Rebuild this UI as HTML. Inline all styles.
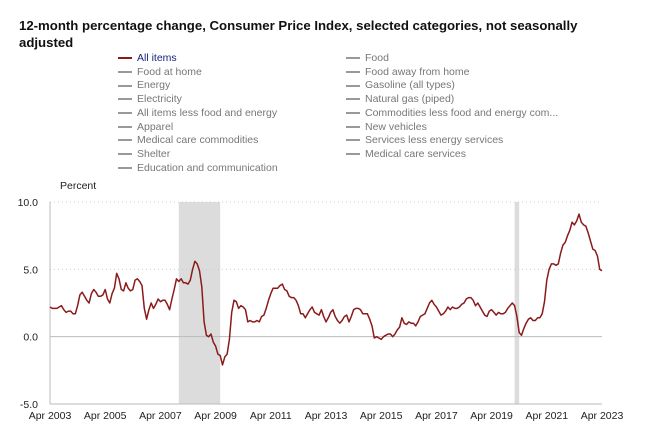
<!DOCTYPE html>
<html><head><meta charset="utf-8"><style>
body{margin:0;background:#fff;font-family:"Liberation Sans",sans-serif;}
#wrap{position:relative;width:661px;height:440px;overflow:hidden;}
.title{position:absolute;left:19px;top:17px;font-size:13.2px;font-weight:bold;color:#111;line-height:17px;width:620px;}
.leg{position:absolute;font-size:10.5px;color:#777;white-space:nowrap;}
.leg span.d{display:inline-block;width:14px;height:2px;background:#999;vertical-align:middle;margin-right:5px;}
</style></head><body>
<div id="wrap">
<div class="title">12-month percentage change, Consumer Price Index, selected categories, not seasonally<br>adjusted</div>
<div id="legend"></div>
<svg id="chart" width="661" height="440" style="position:absolute;left:0;top:0"></svg>
</div>
<script>
const legendLeft=["All items","Food at home","Energy","Electricity","All items less food and energy","Apparel","Medical care commodities","Shelter","Education and communication"];
const legendRight=["Food","Food away from home","Gasoline (all types)","Natural gas (piped)","Commodities less food and energy com...","New vehicles","Services less energy services","Medical care services"];
const yTicks=[10,5,0,-5];
const yTickLabels=["10.0","5.0","0.0","-5.0"];
const xTickYears=[2003,2005,2007,2009,2011,2013,2015,2017,2019,2021,2023];
const recessions=[[2007+11/12,2009+5/12],[2020+1/12,2020+3/12]];
const startYear=2003+3/12;
const allItems=[2.2,2.1,2.1,2.1,2.2,2.3,2.0,1.8,1.9,
1.9,1.7,1.7,2.3,3.1,3.3,3.0,2.7,2.5,3.2,3.5,3.3,
3.0,3.0,3.1,3.5,2.8,2.5,3.2,3.6,4.7,4.3,3.5,3.4,
4.0,3.6,3.4,3.5,4.2,4.3,4.1,3.8,2.1,1.3,2.0,2.5,
2.1,2.4,2.8,2.6,2.7,2.7,2.4,2.0,2.8,3.5,4.3,4.1,
4.3,4.0,4.0,3.9,4.2,5.0,5.6,5.4,4.9,3.7,1.1,0.1,
0.0,0.2,-0.4,-0.7,-1.3,-1.4,-2.1,-1.5,-1.3,-0.2,1.8,2.7,
2.6,2.1,2.3,2.2,2.0,1.1,1.2,1.1,1.1,1.2,1.1,1.5,
1.6,2.1,2.7,3.2,3.6,3.6,3.6,3.8,3.9,3.5,3.4,3.0,
2.9,2.9,2.7,2.3,1.7,1.7,1.4,1.7,2.0,2.2,1.8,1.7,
1.6,2.0,1.5,1.1,1.4,1.8,2.0,1.5,1.2,1.0,1.2,1.5,
1.6,1.1,1.5,2.0,2.1,2.1,2.0,1.7,1.7,1.7,1.3,0.8,
-0.1,0.0,-0.1,-0.2,0.0,0.1,0.2,0.2,0.0,0.2,0.5,0.7,
1.4,1.0,0.9,1.1,1.0,1.0,0.8,1.1,1.5,1.6,1.7,2.1,
2.5,2.7,2.4,2.2,1.9,1.6,1.7,1.9,2.2,2.0,2.2,2.1,
2.1,2.2,2.4,2.5,2.8,2.9,2.9,2.7,2.3,2.5,2.2,1.9,
1.6,1.5,1.9,2.0,1.8,1.6,1.8,1.7,1.7,1.8,2.1,2.3,
2.5,2.3,1.5,0.3,0.1,0.6,1.0,1.3,1.4,1.2,1.2,1.4,
1.4,1.7,2.6,4.2,5.0,5.4,5.4,5.3,5.4,6.2,6.8,7.0,
7.5,7.9,8.5,8.3,8.6,9.1,8.5,8.3,8.2,7.7,7.1,6.5,
6.4,6.0,5.0,4.9];

const NS="http://www.w3.org/2000/svg";
const svg=document.getElementById('chart');
const X0=50,X1=602,Y0=202,Y1=404;
function xs(t){return X0+(t-startYear)/20*(X1-X0);}
function ys(v){return Y0+(10-v)/15*(Y1-Y0);}
function mk(tag,a){const e=document.createElementNS(NS,tag);for(const k in a)e.setAttribute(k,a[k]);svg.appendChild(e);return e;}

const lg=document.getElementById('legend');
function addLeg(list,x){list.forEach((t,i)=>{const d=document.createElement('div');d.className='leg';
d.style.left=x+'px';d.style.top=(52+i*13.7)+'px';
const first=(list===legendLeft&&i===0);
d.innerHTML='<span class="d" style="background:'+(first?'#8b1a1a':'#999')+'"></span>'+t;
if(first)d.style.color='#1a237e';


lg.appendChild(d);});}
addLeg(legendLeft,118);addLeg(legendRight,346);

recessions.forEach(r=>{const e=mk('rect',{x:xs(r[0]),y:Y0,width:xs(r[1])-xs(r[0]),height:Y1-Y0,fill:'#dcdcdc'});

});

yTicks.forEach((v,i)=>{const y=ys(v);
const g=mk('line',{x1:X0,x2:X1,y1:y,y2:y,stroke:v===0?'#bbb':'#ccc','stroke-width':1,'stroke-dasharray':v===0?'':'1,3'});


const t=mk('text',{x:X0-12,y:y+4,'text-anchor':'end','font-size':10.5,fill:'#222'});t.textContent=yTickLabels[i];

});
const yt=mk('text',{x:60,y:189,'font-size':10.5,fill:'#222'});yt.textContent='Percent';



const ax=mk('line',{x1:X0,x2:X0,y1:Y0,y2:Y1,stroke:'#bbb'});


const bx=mk('line',{x1:X0,x2:X1,y1:Y1,y2:Y1,stroke:'#bbb'});


xTickYears.forEach(yr=>{const x=xs(yr+3/12);
const t=mk('text',{x:x,y:Y1+15,'text-anchor':'middle','font-size':10.5,fill:'#222'});t.textContent='Apr '+yr;

});

const pts=allItems.map((v,i)=>xs(startYear+i/12).toFixed(1)+','+ys(v).toFixed(1)).join(' ');
const pl=mk('polyline',{points:pts,fill:'none',stroke:'#8b1a1a','stroke-width':1.5,'stroke-linejoin':'round'});


</script>
</body></html>
